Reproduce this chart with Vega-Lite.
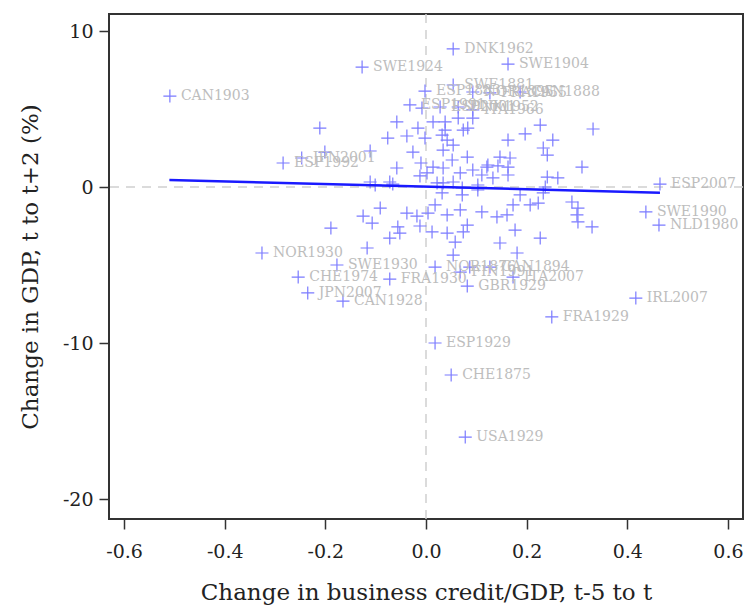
{
  "$schema": "https://vega.github.io/schema/vega-lite/v6.json",
  "width": 634,
  "height": 505,
  "autosize": {"type": "none"},
  "padding": {"left": 109, "top": 14, "right": 5, "bottom": 91},
  "background": "white",
  "config": {
    "font": "DejaVu Serif",
    "view": {"stroke": "#333333", "strokeWidth": 2},
    "axisX": {
      "grid": false, "domain": false,
      "tickColor": "#333333", "tickSize": 10, "tickWidth": 1.5,
      "labelFontSize": 19, "labelColor": "#222222", "labelPadding": 13, "labelFont": "DejaVu Serif",
      "titleFontSize": 23, "titleFontWeight": "normal", "titleColor": "#222222", "titleFont": "DejaVu Serif",
      "titleY": 62, "titleBaseline": "top"
    },
    "axisY": {
      "grid": false, "domain": false,
      "tickColor": "#333333", "tickSize": 10, "tickWidth": 1.5,
      "labelFontSize": 19, "labelColor": "#222222", "labelPadding": 6, "labelFont": "DejaVu Serif",
      "titleFontSize": 23, "titleFontWeight": "normal", "titleColor": "#222222", "titleFont": "DejaVu Serif",
      "titleX": -79, "titleBaseline": "middle", "titleAngle": -90
    }
  },
  "datasets": {
    "refx": [{"x": 0}],
    "refy": [{"y": 0}],
    "fit": [{"x": -0.51, "y": 0.45}, {"x": 0.465, "y": -0.36}],
    "pts": [
      {"x": -0.509, "y": 5.83, "label": "CAN1903"},
      {"x": -0.127, "y": 7.69, "label": "SWE1924"},
      {"x": -0.284, "y": 1.54, "label": "ESP1992"},
      {"x": -0.247, "y": 1.86, "label": "JPN2001"},
      {"x": -0.211, "y": 3.78, "label": ""},
      {"x": -0.201, "y": 2.24, "label": ""},
      {"x": -0.111, "y": 2.31, "label": ""},
      {"x": -0.058, "y": 4.17, "label": ""},
      {"x": -0.016, "y": 3.78, "label": ""},
      {"x": -0.076, "y": 3.14, "label": ""},
      {"x": -0.038, "y": 3.27, "label": ""},
      {"x": -0.026, "y": 2.24, "label": ""},
      {"x": -0.058, "y": 1.22, "label": ""},
      {"x": -0.111, "y": 0.32, "label": ""},
      {"x": -0.072, "y": 0.32, "label": ""},
      {"x": -0.101, "y": 0.13, "label": ""},
      {"x": -0.066, "y": 0.19, "label": ""},
      {"x": -0.032, "y": 5.26, "label": "ESP1991"},
      {"x": -0.002, "y": 6.15, "label": "ESP1883"},
      {"x": -0.008, "y": 5.06, "label": ""},
      {"x": -0.002, "y": 3.14, "label": ""},
      {"x": -0.010, "y": 1.54, "label": ""},
      {"x": -0.012, "y": 0.71, "label": ""},
      {"x": 0.054, "y": 8.85, "label": "DNK1962"},
      {"x": 0.163, "y": 7.88, "label": "SWE1904"},
      {"x": 0.054, "y": 6.54, "label": "SWE1881"},
      {"x": 0.093, "y": 6.09, "label": "NOR1895"},
      {"x": 0.127, "y": 6.03, "label": "FRA1955"},
      {"x": 0.187, "y": 6.09, "label": "CAN1888"},
      {"x": 0.028, "y": 5.13, "label": "ESP2001"},
      {"x": 0.064, "y": 5.13, "label": "DNK1952"},
      {"x": 0.093, "y": 4.94, "label": "ITA1966"},
      {"x": 0.014, "y": 4.17, "label": ""},
      {"x": 0.038, "y": 4.17, "label": ""},
      {"x": 0.064, "y": 4.42, "label": ""},
      {"x": 0.093, "y": 4.42, "label": ""},
      {"x": 0.038, "y": 3.65, "label": ""},
      {"x": 0.074, "y": 3.65, "label": ""},
      {"x": 0.042, "y": 3.01, "label": ""},
      {"x": 0.054, "y": 2.69, "label": ""},
      {"x": 0.034, "y": 2.37, "label": ""},
      {"x": 0.227, "y": 3.97, "label": ""},
      {"x": 0.332, "y": 3.72, "label": ""},
      {"x": 0.197, "y": 3.40, "label": ""},
      {"x": 0.163, "y": 3.01, "label": ""},
      {"x": 0.252, "y": 3.01, "label": ""},
      {"x": 0.233, "y": 2.50, "label": ""},
      {"x": 0.241, "y": 2.05, "label": ""},
      {"x": 0.082, "y": 1.92, "label": ""},
      {"x": 0.052, "y": 1.73, "label": ""},
      {"x": 0.147, "y": 1.92, "label": ""},
      {"x": 0.167, "y": 1.86, "label": ""},
      {"x": 0.121, "y": 1.28, "label": ""},
      {"x": 0.143, "y": 1.35, "label": ""},
      {"x": 0.163, "y": 1.28, "label": ""},
      {"x": 0.310, "y": 1.28, "label": ""},
      {"x": 0.068, "y": 0.90, "label": ""},
      {"x": 0.093, "y": 1.09, "label": ""},
      {"x": 0.111, "y": 0.77, "label": ""},
      {"x": 0.133, "y": 0.58, "label": ""},
      {"x": 0.163, "y": 0.77, "label": ""},
      {"x": 0.241, "y": 0.64, "label": ""},
      {"x": 0.262, "y": 0.58, "label": ""},
      {"x": 0.034, "y": 0.26, "label": ""},
      {"x": 0.072, "y": -0.06, "label": ""},
      {"x": 0.103, "y": 0.13, "label": ""},
      {"x": 0.014, "y": 1.28, "label": ""},
      {"x": 0.034, "y": 1.22, "label": ""},
      {"x": 0.002, "y": 0.90, "label": ""},
      {"x": 0.022, "y": 0.26, "label": ""},
      {"x": 0.054, "y": 0.32, "label": ""},
      {"x": 0.465, "y": 0.19, "label": "ESP2007"},
      {"x": 0.123, "y": 1.41, "label": ""},
      {"x": 0.032, "y": 3.33, "label": ""},
      {"x": 0.083, "y": 3.78, "label": ""},
      {"x": -0.091, "y": -1.35, "label": ""},
      {"x": -0.125, "y": -1.86, "label": ""},
      {"x": -0.107, "y": -2.31, "label": ""},
      {"x": -0.038, "y": -1.67, "label": ""},
      {"x": -0.018, "y": -1.86, "label": ""},
      {"x": -0.056, "y": -2.56, "label": ""},
      {"x": -0.052, "y": -2.95, "label": ""},
      {"x": -0.072, "y": -3.27, "label": ""},
      {"x": -0.012, "y": -2.50, "label": ""},
      {"x": -0.189, "y": -2.63, "label": ""},
      {"x": -0.117, "y": -3.91, "label": ""},
      {"x": 0.004, "y": -1.67, "label": ""},
      {"x": 0.018, "y": -1.15, "label": ""},
      {"x": 0.042, "y": -1.79, "label": ""},
      {"x": 0.012, "y": -2.88, "label": ""},
      {"x": 0.042, "y": -2.95, "label": ""},
      {"x": 0.058, "y": -3.53, "label": ""},
      {"x": 0.054, "y": -4.36, "label": ""},
      {"x": 0.068, "y": -1.47, "label": ""},
      {"x": 0.082, "y": -2.44, "label": ""},
      {"x": 0.111, "y": -1.60, "label": ""},
      {"x": 0.141, "y": -1.92, "label": ""},
      {"x": 0.161, "y": -1.79, "label": ""},
      {"x": 0.173, "y": -1.15, "label": ""},
      {"x": 0.187, "y": -0.51, "label": ""},
      {"x": 0.207, "y": -1.15, "label": ""},
      {"x": 0.223, "y": -1.03, "label": ""},
      {"x": 0.177, "y": -2.76, "label": ""},
      {"x": 0.147, "y": -3.59, "label": ""},
      {"x": 0.181, "y": -4.23, "label": ""},
      {"x": 0.227, "y": -3.27, "label": ""},
      {"x": 0.290, "y": -0.96, "label": ""},
      {"x": 0.302, "y": -1.35, "label": ""},
      {"x": 0.300, "y": -1.79, "label": ""},
      {"x": 0.302, "y": -2.24, "label": ""},
      {"x": 0.330, "y": -2.56, "label": ""},
      {"x": 0.074, "y": -2.88, "label": ""},
      {"x": 0.032, "y": -0.38, "label": ""},
      {"x": 0.072, "y": -0.51, "label": ""},
      {"x": 0.103, "y": -0.19, "label": ""},
      {"x": 0.237, "y": 0.0, "label": ""},
      {"x": 0.233, "y": -0.38, "label": ""},
      {"x": 0.437, "y": -1.60, "label": "SWE1990"},
      {"x": 0.463, "y": -2.44, "label": "NLD1980"},
      {"x": -0.326, "y": -4.23, "label": "NOR1930"},
      {"x": -0.177, "y": -5.00, "label": "SWE1930"},
      {"x": -0.254, "y": -5.77, "label": "CHE1974"},
      {"x": -0.072, "y": -5.90, "label": "FRA1930"},
      {"x": -0.235, "y": -6.79, "label": "JPN2007"},
      {"x": -0.165, "y": -7.31, "label": "CAN1928"},
      {"x": 0.018, "y": -5.13, "label": "NOR1876"},
      {"x": 0.087, "y": -5.13, "label": ""},
      {"x": 0.068, "y": -5.45, "label": "FIN1991"},
      {"x": 0.127, "y": -5.13, "label": "CAN1894"},
      {"x": 0.173, "y": -5.77, "label": "ITA2007"},
      {"x": 0.082, "y": -6.35, "label": "GBR1929"},
      {"x": 0.417, "y": -7.12, "label": "IRL2007"},
      {"x": 0.250, "y": -8.33, "label": "FRA1929"},
      {"x": 0.018, "y": -10.0, "label": "ESP1929"},
      {"x": 0.050, "y": -12.05, "label": "CHE1875"},
      {"x": 0.078, "y": -16.03, "label": "USA1929"}
    ]
  },
  "layer": [
    {
      "data": {"name": "refx"},
      "mark": {"type": "rule", "color": "#cfcfcf", "strokeDash": [9, 7], "strokeWidth": 1.5},
      "encoding": {
        "x": {"field": "x", "type": "quantitative", "scale": {"domain": [-0.63, 0.63], "nice": false, "zero": false}, "title": "Change in business credit/GDP, t-5 to t",
              "axis": {"values": [-0.6, -0.4, -0.2, 0, 0.2, 0.4, 0.6], "labelExpr": "(datum.value < -0.0001 ? '-' : '') + format(abs(datum.value), '.1f')"}}
      }
    },
    {
      "data": {"name": "refy"},
      "mark": {"type": "rule", "color": "#cfcfcf", "strokeDash": [9, 7], "strokeWidth": 1.5},
      "encoding": {
        "y": {"field": "y", "type": "quantitative", "scale": {"domain": [-21.28, 11.09], "nice": false, "zero": false}, "title": "Change in GDP, t to t+2 (%)",
              "axis": {"values": [-20, -10, 0, 10], "labelExpr": "(datum.value < 0 ? '-' : '') + format(abs(datum.value), 'd')"}}
      }
    },
    {
      "data": {"name": "pts"},
      "mark": {"type": "point", "shape": "M-1,0H1M0,-1V1", "filled": false, "size": 170, "strokeWidth": 1.2, "color": "#7b7bff", "opacity": 1},
      "encoding": {
        "x": {"field": "x", "type": "quantitative", "scale": {"domain": [-0.63, 0.63], "nice": false, "zero": false}, "title": "Change in business credit/GDP, t-5 to t",
              "axis": {"values": [-0.6, -0.4, -0.2, 0, 0.2, 0.4, 0.6], "labelExpr": "(datum.value < -0.0001 ? '-' : '') + format(abs(datum.value), '.1f')"}},
        "y": {"field": "y", "type": "quantitative", "scale": {"domain": [-21.28, 11.09], "nice": false, "zero": false}, "title": "Change in GDP, t to t+2 (%)",
              "axis": {"values": [-20, -10, 0, 10], "labelExpr": "(datum.value < 0 ? '-' : '') + format(abs(datum.value), 'd')"}}
      }
    },
    {
      "data": {"name": "pts"},
      "transform": [{"filter": "datum.label != ''"}],
      "mark": {"type": "text", "align": "left", "baseline": "middle", "dx": 11, "fontSize": 14, "font": "DejaVu Serif", "color": "#bdbdbd"},
      "encoding": {
        "x": {"field": "x", "type": "quantitative", "scale": {"domain": [-0.63, 0.63], "nice": false, "zero": false}, "title": "Change in business credit/GDP, t-5 to t",
              "axis": {"values": [-0.6, -0.4, -0.2, 0, 0.2, 0.4, 0.6], "labelExpr": "(datum.value < -0.0001 ? '-' : '') + format(abs(datum.value), '.1f')"}},
        "y": {"field": "y", "type": "quantitative", "scale": {"domain": [-21.28, 11.09], "nice": false, "zero": false}, "title": "Change in GDP, t to t+2 (%)",
              "axis": {"values": [-20, -10, 0, 10], "labelExpr": "(datum.value < 0 ? '-' : '') + format(abs(datum.value), 'd')"}},
        "text": {"field": "label", "type": "nominal"}
      }
    },
    {
      "data": {"name": "fit"},
      "mark": {"type": "line", "color": "#1a1aff", "strokeWidth": 2.5},
      "encoding": {
        "x": {"field": "x", "type": "quantitative", "scale": {"domain": [-0.63, 0.63], "nice": false, "zero": false}, "title": "Change in business credit/GDP, t-5 to t",
              "axis": {"values": [-0.6, -0.4, -0.2, 0, 0.2, 0.4, 0.6], "labelExpr": "(datum.value < -0.0001 ? '-' : '') + format(abs(datum.value), '.1f')"}},
        "y": {"field": "y", "type": "quantitative", "scale": {"domain": [-21.28, 11.09], "nice": false, "zero": false}, "title": "Change in GDP, t to t+2 (%)",
              "axis": {"values": [-20, -10, 0, 10], "labelExpr": "(datum.value < 0 ? '-' : '') + format(abs(datum.value), 'd')"}}
      }
    }
  ]
}
